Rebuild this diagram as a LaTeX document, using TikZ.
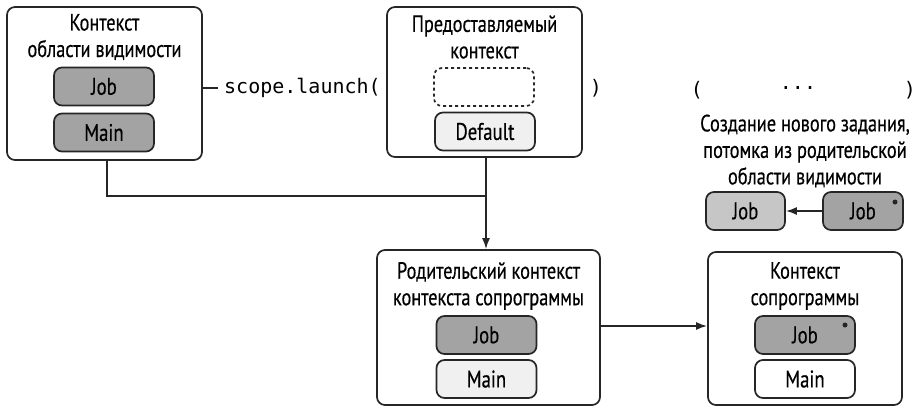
\documentclass[tikz,border=0pt]{standalone}
\usepackage{fontspec}
\setmainfont{PT Sans}[FakeStretch=0.78,FakeBold=0.4]
\newfontfamily\codefont{DejaVu Sans Mono}
\usepackage{xcolor}
\usepackage{tikz}
\usetikzlibrary{arrows.meta,positioning}

\definecolor{jobdark}{HTML}{A3A3A3}
\definecolor{joblight}{HTML}{C6C6C6}
\definecolor{mainpale}{HTML}{F0F0F0}

\tikzset{
	ctxbox/.style={draw=black!85,line width=1.7pt,rounded corners=8pt,fill=white},
	pill/.style={draw=black!85,line width=1.7pt,rounded corners=8pt,minimum width=100pt,minimum height=38pt,inner sep=0pt,font=\fontsize{24}{26}\selectfont},
	title/.style={align=center,inner sep=0pt,font=\fontsize{23.5}{26.5}\selectfont},
	calltext/.style={inner sep=0pt,font=\codefont\fontsize{20}{22}\selectfont},
	wire/.style={line width=1.7pt,draw=black!85},
	tip/.style={-{Latex[length=11pt,width=8pt]}},
	jobdot/.style={circle,fill=black!85,inner sep=0pt,minimum size=5pt}
}

\begin{document}
\begin{tikzpicture}[x=1pt,y=-1pt]
	\useasboundingbox (0,0) rectangle (922,408);
	%
	%  CONTEXT BOXES
	%
	\node[ctxbox,minimum width=195pt,minimum height=153pt] (scope) at (104.5,83.5) {};
	\node[ctxbox,minimum width=195pt,minimum height=150pt] (given) at (484.5,82) {};
	\node[ctxbox,minimum width=223pt,minimum height=155pt] (parent) at (488.5,327.5) {};
	\node[ctxbox,minimum width=194pt,minimum height=153pt] (coro) at (805,328.5) {};
	%
	%  TITLES
	%
	\node[title] (t1) at (104.5,37) {Контекст\\области видимости};
	\node[title] (t2) at (484.5,37) {Предоставляемый\\контекст};
	\node[title] (t3) at (488.5,286) {Родительский контекст\\контекста сопрограммы};
	\node[title] (t4) at (805,286) {Контекст\\сопрограммы};
	\node[title] (t5) at (805,151) {Создание нового задания,\\потомка из родительской\\области видимости};
	%
	%  ELEMENTS
	%
	\node[pill,fill=jobdark] (a1) at (104,86.5) {Job};
	\node[pill,fill=jobdark] (a2) at (104,132.5) {Main};
	\node[pill,dashed,fill=white] (b1) at (484,87) {};
	\node[pill,fill=mainpale] (b2) at (485,131.5) {Default};
	\node[pill,fill=jobdark] (c1) at (486.5,335) {Job};
	\node[pill,fill=mainpale] (c2) at (486.5,379) {Main};
	\node[pill,fill=jobdark] (d1) at (805,335) {Job};
	\node[pill,fill=white] (d2) at (805,379) {Main};
	\node[pill,fill=joblight,minimum width=79pt] (e1) at (745.5,211) {Job};
	\node[pill,fill=jobdark,minimum width=80pt] (e2) at (863,211) {Job};
	\node[jobdot] (d1dot) at (845,325) {};
	\node[jobdot] (e2dot) at (895,202) {};
	%
	%  CALL TEXT
	%
	\node[calltext,anchor=west] (launch) at (224,88) {scope.launch(};
	\node[calltext] (close1) at (596,88) {)};
	\node[calltext] (open2) at (697,90) {(};
	\node[calltext] (dots) at (798,88) {...};
	\node[calltext] (close2) at (910,90) {)};
	%
	%  CONNECTORS
	%
	\coordinate (join) at (486,196);
	\draw[wire] (scope.east |- launch) -- ([xshift=-6pt]launch.west);
	\draw[wire] ([xshift=2.5pt]scope.south) |- (join);
	\draw[wire,tip] (given.south -| join) -- (parent.north -| join);
	\draw[wire,tip] (parent.east |- 0,326) -- (coro.west |- 0,326);
	\draw[wire,tip] (e2.west) -- (e1.east);
\end{tikzpicture}
\end{document}
